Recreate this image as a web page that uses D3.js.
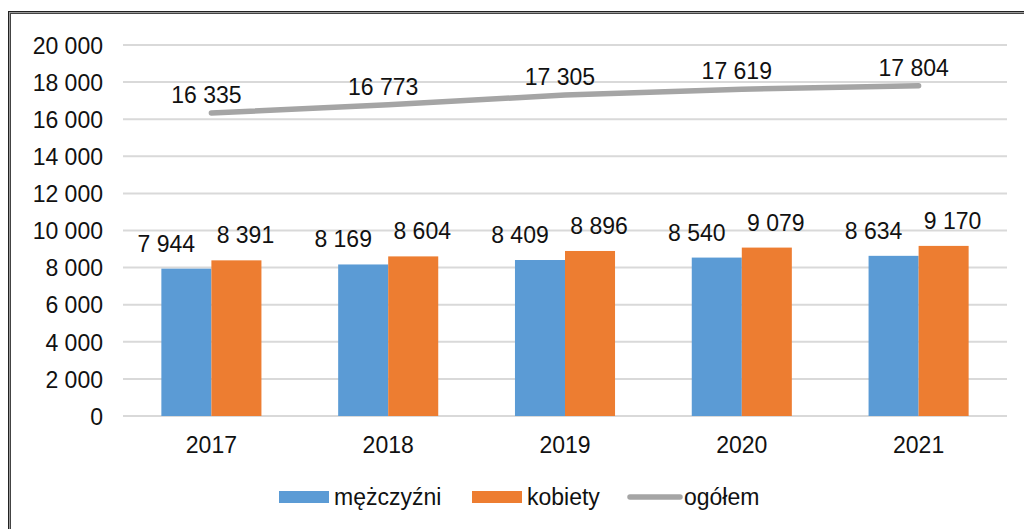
<!DOCTYPE html>
<html>
<head>
<meta charset="utf-8">
<script src="https://cdn.jsdelivr.net/npm/d3@7"></script>
<style>
  html, body { margin: 0; padding: 0; background: #fff; }
  svg { display: block; font-family: "Liberation Sans", Arial, sans-serif; }
</style>
</head>
<body>
<div id="chart"></div>
<script>
const years = ["2017", "2018", "2019", "2020", "2021"];
const men = [7944, 8169, 8409, 8540, 8634];
const women = [8391, 8604, 8896, 9079, 9170];
const total = [16335, 16773, 17305, 17619, 17804];
const yTicks = [0, 2000, 4000, 6000, 8000, 10000, 12000, 14000, 16000, 18000, 20000];
const legendLabels = ["mężczyźni", "kobiety", "ogółem"];

const width = 1024;
const height = 529;
const plot = { left: 123, right: 1007, top: 45, bottom: 416 };
const colors = { men: "#5b9bd5", women: "#ed7d31", total: "#a5a5a5" };
const textColor = "#111";
const fontSize = 23;

const fmt = (v) => d3.format(",")(v).replace(/,/g, " ");

const svg = d3.select("#chart")
  .append("svg")
  .attr("width", width)
  .attr("height", height);

// double frame
svg.append("rect")
  .attr("x", 8.5).attr("y", 11.5)
  .attr("width", 1100).attr("height", 600)
  .attr("fill", "none").attr("stroke", "#222").attr("stroke-width", 1);
svg.append("rect")
  .attr("x", 9.5).attr("y", 12.5)
  .attr("width", 1100).attr("height", 600)
  .attr("fill", "none").attr("stroke", "#9a9a9a").attr("stroke-width", 1);
svg.append("rect")
  .attr("x", 10.5).attr("y", 13.5)
  .attr("width", 1100).attr("height", 600)
  .attr("fill", "none").attr("stroke", "#444").attr("stroke-width", 1);

const x = d3.scaleBand()
  .domain(years)
  .range([plot.left, plot.right])
  .paddingInner(0.434)
  .paddingOuter(0.217);

const xSub = d3.scaleBand()
  .domain(["men", "women"])
  .range([0, x.bandwidth()]);

const y = d3.scaleLinear()
  .domain([0, 20000])
  .range([plot.bottom, plot.top]);

// gridlines
svg.append("g")
  .selectAll("line")
  .data(yTicks)
  .join("line")
  .attr("x1", plot.left)
  .attr("x2", plot.right)
  .attr("y1", (d) => y(d))
  .attr("y2", (d) => y(d))
  .attr("stroke", "#d9d9d9")
  .attr("stroke-width", 2);

// y axis labels
const yAxis = d3.axisLeft(y)
  .tickValues(yTicks)
  .tickFormat(fmt)
  .tickSize(0)
  .tickPadding(20);
const yG = svg.append("g")
  .attr("transform", `translate(${plot.left},0)`)
  .call(yAxis);
yG.select(".domain").remove();
yG.selectAll("text")
  .attr("font-size", fontSize)
  .attr("font-family", "Liberation Sans, Arial, sans-serif")
  .attr("fill", textColor)
  .attr("dy", "0.36em");

// x axis labels
const xAxis = d3.axisBottom(x).tickSize(0).tickPadding(0);
const xG = svg.append("g")
  .attr("transform", `translate(0,${plot.bottom})`)
  .call(xAxis);
xG.select(".domain").remove();
xG.selectAll("text")
  .attr("font-size", fontSize)
  .attr("font-family", "Liberation Sans, Arial, sans-serif")
  .attr("fill", textColor)
  .attr("dy", 37)
  .attr("y", 0);

// bars
const barData = years.map((yr, i) => [
  { year: yr, key: "men", value: men[i] },
  { year: yr, key: "women", value: women[i] },
]).flat();

svg.append("g")
  .selectAll("rect")
  .data(barData)
  .join("rect")
  .attr("x", (d) => x(d.year) + xSub(d.key))
  .attr("y", (d) => y(d.value))
  .attr("width", xSub.bandwidth())
  .attr("height", (d) => y(0) - y(d.value))
  .attr("fill", (d) => (d.key === "men" ? colors.men : colors.women));

// bar labels
svg.append("g")
  .selectAll("text")
  .data(barData)
  .join("text")
  .attr("x", (d) => x(d.year) + xSub(d.key) + xSub.bandwidth() / 2 + (d.key === "men" ? -20 : 9))
  .attr("y", (d) => y(d.value) - 17)
  .attr("text-anchor", "middle")
  .attr("font-size", fontSize)
  .attr("fill", textColor)
  .text((d) => fmt(d.value));

// total line
const center = (yr) => x(yr) + x.bandwidth() / 2;
const line = d3.line()
  .x((d, i) => center(years[i]))
  .y((d) => y(d));

svg.append("path")
  .datum(total)
  .attr("fill", "none")
  .attr("stroke", colors.total)
  .attr("stroke-width", 5.5)
  .attr("stroke-linecap", "round")
  .attr("stroke-linejoin", "round")
  .attr("d", line);

svg.append("g")
  .selectAll("text")
  .data(total)
  .join("text")
  .attr("x", (d, i) => center(years[i]) - 5)
  .attr("y", (d) => y(d) - 10)
  .attr("text-anchor", "middle")
  .attr("font-size", fontSize)
  .attr("fill", textColor)
  .text((d) => fmt(d));

// legend
const legend = svg.append("g").attr("font-size", fontSize).attr("fill", textColor);
const legendX = [279, 472, 628];
legendLabels.forEach((label, i) => {
  const g = legend.append("g").attr("transform", `translate(${legendX[i]},497)`);
  if (i < 2) {
    g.append("rect")
      .attr("x", 0).attr("y", -6)
      .attr("width", 50).attr("height", 12)
      .attr("fill", i === 0 ? colors.men : colors.women);
  } else {
    g.append("line")
      .attr("x1", 2).attr("x2", 52)
      .attr("y1", 0).attr("y2", 0)
      .attr("stroke", colors.total)
      .attr("stroke-width", 5.5)
      .attr("stroke-linecap", "round");
  }
  g.append("text")
    .attr("x", i < 2 ? 55 : 56)
    .attr("y", 8)
    .text(label);
});
</script>
</body>
</html>
